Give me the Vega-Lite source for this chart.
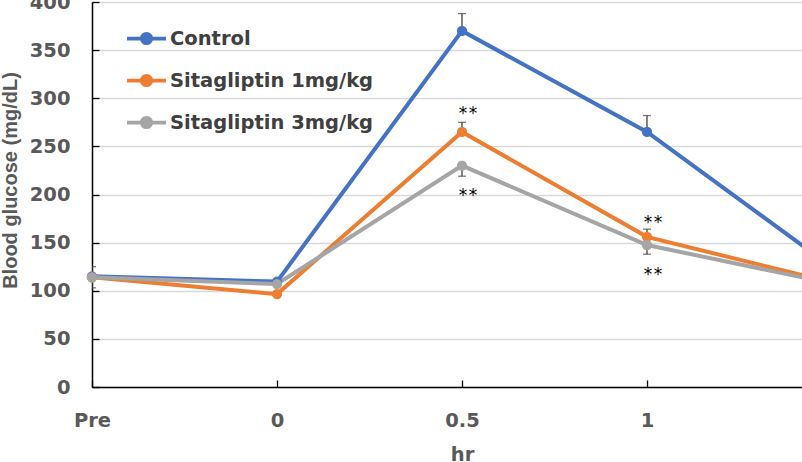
{
  "$schema": "https://vega.github.io/schema/vega-lite/v6.json",
  "autosize": "none",
  "width": 710,
  "height": 385,
  "padding": {"left": 92, "top": 2, "right": 0, "bottom": 75},
  "background": "white",
  "config": {
    "view": {"stroke": null},
    "axis": {
      "labelFont": "DejaVu Sans",
      "labelFontWeight": "bold",
      "labelFontSize": 19.5,
      "labelColor": "#595959",
      "titleColor": "#595959",
      "domainColor": "#000000",
      "domainWidth": 1.5,
      "tickColor": "#000000",
      "tickWidth": 1.3
    }
  },
  "datasets": {
    "glucose": [
      {"time": "Pre", "series": "Control", "value": 115},
      {"time": "0", "series": "Control", "value": 109.5},
      {"time": "0.5", "series": "Control", "value": 370},
      {"time": "1", "series": "Control", "value": 265},
      {"time": "2", "series": "Control", "value": 124.5},
      {"time": "Pre", "series": "Sitagliptin 1mg/kg", "value": 114},
      {"time": "0", "series": "Sitagliptin 1mg/kg", "value": 96.5},
      {"time": "0.5", "series": "Sitagliptin 1mg/kg", "value": 265},
      {"time": "1", "series": "Sitagliptin 1mg/kg", "value": 156},
      {"time": "2", "series": "Sitagliptin 1mg/kg", "value": 108.5},
      {"time": "Pre", "series": "Sitagliptin 3mg/kg", "value": 114},
      {"time": "0", "series": "Sitagliptin 3mg/kg", "value": 107},
      {"time": "0.5", "series": "Sitagliptin 3mg/kg", "value": 230},
      {"time": "1", "series": "Sitagliptin 3mg/kg", "value": 147.5},
      {"time": "2", "series": "Sitagliptin 3mg/kg", "value": 107.5}
    ],
    "errors": [
      {"time": "Pre", "series": "Sitagliptin 3mg/kg", "lo": 103, "hi": 125},
      {"time": "0.5", "series": "Control", "lo": 370, "hi": 388},
      {"time": "1", "series": "Control", "lo": 265, "hi": 282},
      {"time": "0.5", "series": "Sitagliptin 1mg/kg", "lo": 265, "hi": 275},
      {"time": "1", "series": "Sitagliptin 1mg/kg", "lo": 156, "hi": 164},
      {"time": "0.5", "series": "Sitagliptin 3mg/kg", "lo": 219, "hi": 230},
      {"time": "1", "series": "Sitagliptin 3mg/kg", "lo": 138, "hi": 147.5}
    ],
    "stars": [
      {"time": "0.5", "y": 278, "label": "*\u200a*"},
      {"time": "0.5", "y": 193, "label": "*\u200a*"},
      {"time": "1", "y": 165.7, "label": "*\u200a*"},
      {"time": "1", "y": 111.5, "label": "*\u200a*"}
    ]
  },
  "encoding": {
    "x": {
      "field": "time",
      "type": "ordinal",
      "scale": {"type": "point", "domain": ["Pre", "0", "0.5", "1", "2"], "range": [0, 740], "padding": 0},
      "axis": {
        "title": "hr",
        "titleFont": "DejaVu Sans",
        "titleFontWeight": "bold",
        "titleFontSize": 19.5,
        "titlePadding": 16,
        "labelAngle": 0,
        "tickSize": -7,
        "labelPadding": 31,
        "grid": false
      }
    }
  },
  "layer": [
    {
      "data": {"name": "errors"},
      "mark": {"type": "rule", "color": "#404040", "strokeWidth": 1.3, "clip": true},
      "encoding": {
        "y": {"field": "lo", "type": "quantitative"},
        "y2": {"field": "hi"}
      }
    },
    {
      "data": {"name": "errors"},
      "mark": {"type": "tick", "color": "#404040", "size": 8, "thickness": 1.3, "clip": true},
      "encoding": {"y": {"field": "hi", "type": "quantitative"}}
    },
    {
      "data": {"name": "errors"},
      "mark": {"type": "tick", "color": "#404040", "size": 8, "thickness": 1.3, "clip": true},
      "encoding": {"y": {"field": "lo", "type": "quantitative"}}
    },
    {
      "data": {"name": "glucose"},
      "mark": {"type": "line", "strokeWidth": 4, "point": {"filled": true, "size": 105, "opacity": 1}},
      "encoding": {
        "y": {
          "field": "value",
          "type": "quantitative",
          "scale": {"domain": [0, 400], "nice": false},
          "axis": {
            "title": "Blood glucose (mg/dL)",
            "titleFont": "Liberation Sans",
            "titleFontWeight": "bold",
            "titleFontSize": 20,
            "titleX": -76,
            "titleY": 178,
            "titleBaseline": "alphabetic",
            "titleAlign": "center",
            "values": [0, 50, 100, 150, 200, 250, 300, 350, 400],
            "grid": true,
            "gridColor": "#D9D9D9",
            "gridWidth": 1.3,
            "tickSize": -7,
            "labelPadding": 29
          }
        },
        "color": {
          "field": "series",
          "type": "nominal",
          "scale": {
            "domain": ["Control", "Sitagliptin 1mg/kg", "Sitagliptin 3mg/kg"],
            "range": ["#4472C4", "#ED7D31", "#A5A5A5"]
          },
          "legend": {
            "title": null,
            "orient": "none",
            "legendX": 33,
            "legendY": 15,
            "padding": 0,
            "symbolType": "M-1,0H1M-0.24,0A0.24,0.24,0,1,1,0.24,0A0.24,0.24,0,1,1,-0.24,0Z",
            "symbolSize": 1521,
            "symbolStrokeWidth": 3.75,
            "labelFont": "DejaVu Sans",
            "labelFontWeight": "bold",
            "labelFontSize": 19.5,
            "labelColor": "#404040",
            "labelOffset": 2,
            "rowPadding": 8,
            "labelLimit": 400,
            "encode": {
              "symbols": {
                "update": {
                  "fill": {"scale": "color", "field": "value"},
                  "stroke": {"scale": "color", "field": "value"},
                  "opacity": {"value": 1}
                }
              }
            }
          }
        }
      }
    },
    {
      "data": {"name": "stars"},
      "mark": {"type": "text", "font": "DejaVu Sans", "fontSize": 17, "color": "#000000", "baseline": "alphabetic", "align": "center", "dx": 6},
      "encoding": {
        "y": {"field": "y", "type": "quantitative"},
        "text": {"field": "label"}
      }
    }
  ]
}
